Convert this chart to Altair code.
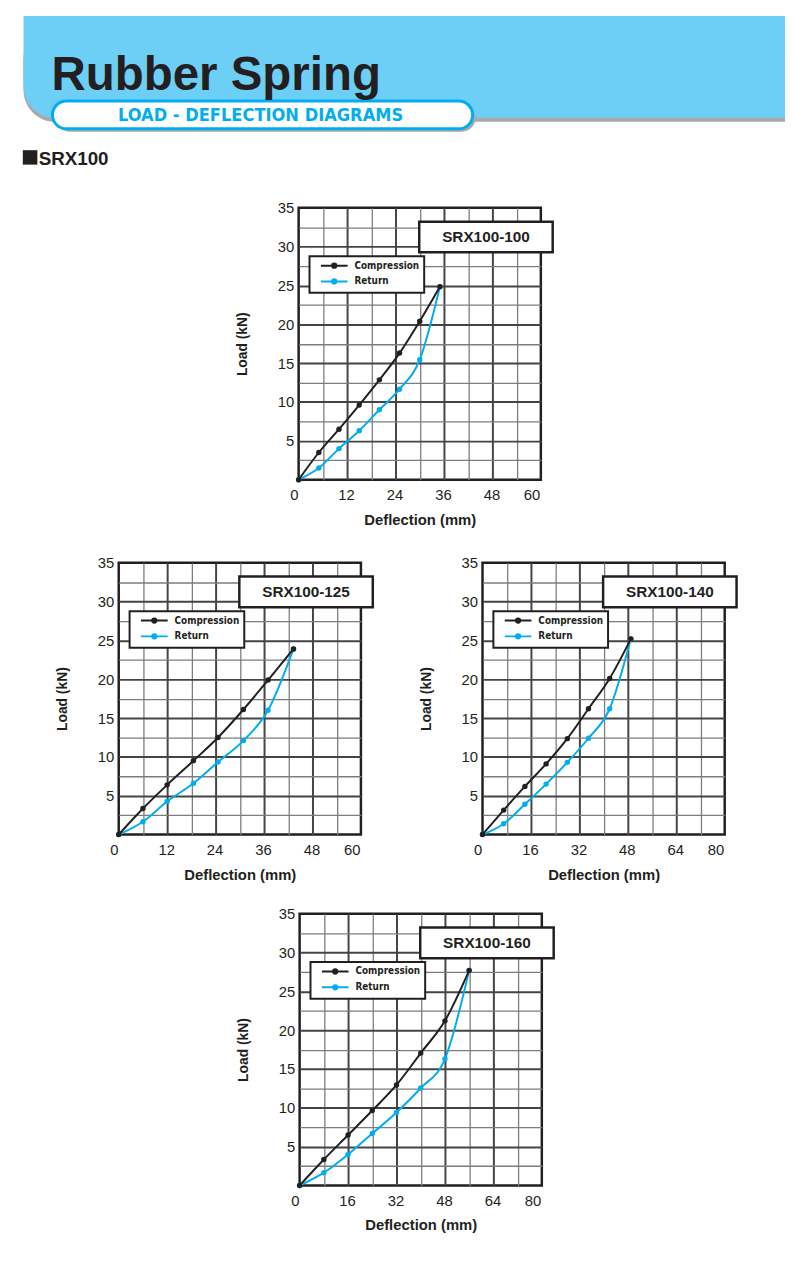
import altair as alt
import pandas as pd

FONT = "Liberation Sans, Arial, Helvetica, sans-serif"
COND = "DejaVu Sans Condensed, Liberation Sans, sans-serif"
INK = "#231F20"
CYAN = "#00AEEF"
BAND = "#6DCFF6"
SHADOW = "#A7A9AC"
MAJOR = "#444444"
MINOR = "#7d7d7d"

# ---------------- data ----------------
series_names = ["Compression", "Return"]
models = ["SRX100-100", "SRX100-125", "SRX100-140", "SRX100-160"]
x_max = [60, 60, 80, 80]
x_label_step = [12, 12, 16, 16]
y_max = 35

defl_100 = [0, 5, 10, 15, 20, 25, 30, 35]
comp_100 = [0, 3.5, 6.5, 9.6, 12.85, 16.3, 20.4, 24.85]
ret_100 = [0, 1.5, 4.0, 6.3, 9.0, 11.65, 15.45, 24.85]

defl_125 = [0, 6, 12, 18.5, 24.6, 30.9, 37, 43.3]
comp_125 = [0, 3.35, 6.4, 9.5, 12.5, 16.1, 19.9, 23.9]
ret_125 = [0, 1.65, 4.25, 6.6, 9.35, 12.1, 16.0, 23.9]

defl_140 = [0, 7, 14, 21, 28, 35, 42, 49]
comp_140 = [0, 3.15, 6.2, 9.1, 12.35, 16.2, 20.1, 25.2]
ret_140 = [0, 1.4, 3.9, 6.5, 9.3, 12.4, 16.2, 25.2]

defl_160 = [0, 8, 16, 24, 32, 40, 48, 56]
comp_160 = [0, 3.35, 6.5, 9.65, 12.95, 17.05, 21.2, 27.7]
ret_160 = [0, 1.65, 4.0, 6.7, 9.4, 12.55, 16.3, 27.7]

header_title = "Rubber Spring"
header_sub = "LOAD - DEFLECTION DIAGRAMS"
section_label = "SRX100"

# legend symbol: short line with a dot in the middle
SYMBOL = "M-3.86,0H3.86M-0.62,0A0.62,0.62,0,1,1,0.62,0A0.62,0.62,0,1,1,-0.62,0Z"

PW, PH = 245, 275


def panel(model, defl, comp, ret, xmax, xstep):
    rows = []
    for d, v in zip(defl, ret):
        rows.append({"Deflection": d, "Load": v, "Series": "Return"})
    for d, v in zip(defl, comp):
        rows.append({"Deflection": d, "Load": v, "Series": "Compression"})
    df = pd.DataFrame(rows)

    half = xstep // 2
    xvals = list(range(0, xmax + 1, half))
    yvals = [i * 2.5 for i in range(1, 15)]

    x_axis = alt.Axis(
        values=xvals,
        labelExpr=f"datum.value % {xstep} === 0 ? datum.label : ''",
        title="Deflection (mm)", titleFontSize=15, titlePadding=12,
        labelPadding=8, minExtent=21, maxExtent=21, labelAngle=0,
        labelOffset={"condition": {"test": "datum.value === 0", "value": -9}, "value": -1},
        gridColor={"condition": {"test": f"datum.value % {xstep} === 0", "value": MAJOR}, "value": MINOR},
        gridWidth={"condition": {"test": f"datum.value % {xstep} === 0", "value": 2}, "value": 1.3},
        gridOpacity={"condition": {"test": f"datum.value === 0 || datum.value === {xmax}", "value": 0}, "value": 1},
    )
    y_axis = alt.Axis(
        values=yvals,
        labelExpr="datum.value % 5 === 0 ? datum.label : ''",
        title="Load (kN)", titleFontSize=14, titlePadding=28,
        labelPadding=5, minExtent=22, maxExtent=22,
        gridColor={"condition": {"test": "datum.value % 5 === 0", "value": MAJOR}, "value": MINOR},
        gridWidth={"condition": {"test": "datum.value % 5 === 0", "value": 2}, "value": 1.3},
        gridOpacity={"condition": {"test": "datum.value >= 35", "value": 0}, "value": 1},
    )
    legend = alt.Legend(
        title=None, orient="none", legendX=11, legendY=49, direction="vertical",
        symbolType=SYMBOL, symbolSize=49, symbolStrokeWidth=2, symbolOffset=15.5,
        symbolOpacity=1, labelOffset=15.5, labelFont=COND, labelFontSize=10,
        labelFontWeight="bold", labelColor=INK, padding=4.5, rowPadding=2,
        strokeColor=INK, fillColor="white", zindex=1, labelLimit=300,
    )
    xs = alt.Scale(domain=[0, xmax], nice=False, zero=True)
    ys = alt.Scale(domain=[0, y_max], nice=False)
    cs = alt.Scale(domain=series_names, range=[INK, CYAN])

    base = alt.Chart(df).encode(
        x=alt.X("Deflection:Q", scale=xs, axis=x_axis),
        y=alt.Y("Load:Q", scale=ys, axis=y_axis),
        color=alt.Color("Series:N", scale=cs, legend=legend),
    )
    layers = []
    for s in ["Return", "Compression"]:
        layers.append(base.transform_filter(alt.datum.Series == s)
                      .mark_line(interpolate="monotone", strokeWidth=2))
        layers.append(base.transform_filter(alt.datum.Series == s)
                      .mark_circle(size=30, opacity=1))

    box_data = alt.Data(values=[{"model": model}])
    box = alt.Chart(box_data).mark_rect(fill="white", stroke=INK, strokeWidth=2.5).encode(
        x=alt.value(122), x2=alt.value(257), y=alt.value(14), y2=alt.value(45)
    )
    box_text = alt.Chart(box_data).mark_text(
        font=FONT, fontSize=15.5, fontWeight="bold", color=INK, baseline="middle", align="center"
    ).encode(x=alt.value(189.5), y=alt.value(30), text="model:N")

    return alt.layer(*layers, box, box_text).properties(
        width=PW, height=PH, view=alt.ViewBackground(stroke=INK, strokeWidth=2.5)
    )


def spacer(w, h):
    return alt.Chart(alt.Data(values=[{}])).mark_rect(opacity=0).encode(
        x=alt.value(0), x2=alt.value(1), y=alt.value(0), y2=alt.value(1)
    ).properties(width=w, height=h)


# ---------------- header ----------------
HW = 785
D = -7           # the page places the chart slightly lower; pull header items up
HH = 191 + D
one = alt.Data(values=[{}])
band_shadow = alt.Chart(one).mark_rect(fill=SHADOW, cornerRadiusBottomLeft=32).encode(
    x=alt.value(14.7), x2=alt.value(HW), y=alt.value(50 + D), y2=alt.value(114 + D))
band_top = alt.Chart(one).mark_rect(fill=BAND).encode(
    x=alt.value(14.7), x2=alt.value(HW), y=alt.value(0), y2=alt.value(70 + D))
band = alt.Chart(one).mark_rect(fill=BAND, cornerRadiusBottomLeft=32).encode(
    x=alt.value(14.7), x2=alt.value(HW), y=alt.value(46 + D), y2=alt.value(110 + D))
pill_shadow = alt.Chart(one).mark_rect(fill=SHADOW, cornerRadius=14).encode(
    x=alt.value(47), x2=alt.value(472), y=alt.value(96 + D), y2=alt.value(124 + D))
pill = alt.Chart(one).mark_rect(fill="white", stroke=CYAN, strokeWidth=3, cornerRadius=14).encode(
    x=alt.value(44), x2=alt.value(469), y=alt.value(93 + D), y2=alt.value(121 + D))
pill_text = alt.Chart(alt.Data(values=[{"t": header_sub}])).mark_text(
    font=COND, fontSize=18.3, fontWeight="bold", color=CYAN, align="center", baseline="middle"
).encode(x=alt.value(254.5), y=alt.value(108 + D), text="t:N")
title = alt.Chart(alt.Data(values=[{"t": header_title}])).mark_text(
    font=FONT, fontSize=48, fontWeight="bold", color=INK, align="left", baseline="alphabetic"
).encode(x=alt.value(43), y=alt.value(82 + D), text="t:N")
square = alt.Chart(one).mark_rect(fill=INK).encode(
    x=alt.value(14), x2=alt.value(28.7), y=alt.value(142.7 + D), y2=alt.value(157.3 + D))
sec = alt.Chart(alt.Data(values=[{"t": section_label}])).mark_text(
    font=FONT, fontSize=19, fontWeight="bold", color=INK, align="left", baseline="alphabetic"
).encode(x=alt.value(30), y=alt.value(157.3 + D), text="t:N")

header = alt.layer(band_shadow, band_top, band, pill_shadow, pill, pill_text, title, square, sec).properties(
    width=HW, height=HH)

# ---------------- panels ----------------
p1 = panel(models[0], defl_100, comp_100, ret_100, x_max[0], x_label_step[0])
p2 = panel(models[1], defl_125, comp_125, ret_125, x_max[1], x_label_step[1])
p3 = panel(models[2], defl_140, comp_140, ret_140, x_max[2], x_label_step[2])
p4 = panel(models[3], defl_160, comp_160, ret_160, x_max[3], x_label_step[3])

E = 64  # approx left overhang of y axis (labels + title)


def indep(c):
    return c.resolve_scale(color="independent").resolve_legend(color="independent")


row1 = indep(alt.hconcat(spacer(290 - E, 1), p1, spacing=0))
row2 = indep(alt.hconcat(spacer(108 - E, 1), p2, spacer(474 - E - 366 - 4, 1), p3, spacing=0))
row3 = indep(alt.hconcat(spacer(291 - E, 1), p4, spacing=0))

chart = indep(alt.vconcat(header, row1, spacer(1, 23), row2, spacer(1, 19), row3, spacing=0))
chart = chart.properties(padding=0).configure(font=FONT, padding=0).configure_view(
    stroke="transparent"
).configure_axis(
    labelFont=FONT, labelFontSize=15, labelColor=INK, titleFont=FONT, titleFontWeight="bold",
    titleColor=INK, ticks=False, domain=False,
).configure_legend(strokeWidth=2)

chart.save("out.html", embed_options={"renderer": "svg", "actions": False})
